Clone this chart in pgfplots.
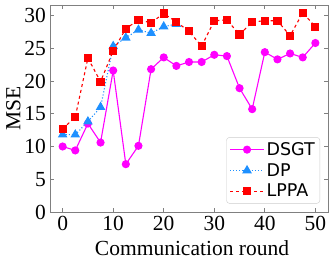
\documentclass[border=0pt]{standalone}
\usepackage{fontspec}
\setmainfont{Liberation Serif}
\newfontfamily\legfont{DejaVu Sans}
\usepackage{pgfplots}
\pgfplotsset{compat=1.18}
\definecolor{dpblue}{rgb}{0.118,0.565,1}
\definecolor{magenta}{rgb}{1,0,1}
\definecolor{red}{rgb}{1,0,0}
\definecolor{legframe}{rgb}{0.8,0.8,0.8}
\begin{document}
\begin{tikzpicture}[x=1pt,y=1pt]
\begin{axis}[
  scale only axis,
  width=278pt, height=207pt,
  xmin=-2.5, xmax=52.5, ymin=0, ymax=31.6,
  xtick={0,10,20,30,40,50},
  ytick={0,5,10,15,20,25,30},
  tick align=inside,
  xtick pos=both, ytick pos=both,
  major tick length=4pt,
  axis line style={gray, line width=0.9pt},
  tick style={gray, line width=0.8pt},
  /pgf/number format/assume math mode=true,
  tick label style={font=\fontsize{21.5}{21.5}\selectfont},
  xticklabel style={anchor=base, yshift=-18.5pt},
  yticklabel style={anchor=east, xshift=-0.5pt},
  label style={font=\fontsize{21.5}{21.5}\selectfont},
  xlabel={Communication round},
  ylabel={MSE},
  xlabel style={at={(axis description cs:0.5,0)}, anchor=base, yshift=-44pt, xshift=3pt},
  ylabel style={at={(axis description cs:0,0.5)}, anchor=base, yshift=29.5pt},
  legend image code/.code={\draw[mark repeat=2,mark phase=2] plot coordinates {(0pt,0pt) (17pt,0pt) (34pt,0pt)};},
  legend style={font=\legfont\fontsize{17.5}{17.5}\selectfont, draw=legframe, rounded corners=3pt,
    fill=white, at={(rel axis cs:1,0)}, xshift=-8pt, yshift=8.4pt, anchor=south east, row sep=2.5pt, inner sep=3pt},
  legend cell align=left,
]
\addplot[magenta, line width=1.1pt, mark=*, mark size=3.5pt,
  legend image post style={draw=magenta, fill=magenta, sharp corners}] coordinates {
(0,10.0)(2.5,9.4)(5,13.5)(7.5,10.6)(10,21.6)(12.5,7.3)(15,10.1)(17.5,21.8)(20,23.6)(22.5,22.3)
(25,22.9)(27.5,22.9)(30,24.0)(32.5,23.8)(35,18.9)(37.5,15.7)(40,24.4)(42.5,23.3)(45,24.2)(47.5,23.6)(50,25.8)};
\addlegendentry{DSGT}
\addplot[dpblue, line width=1.1pt, dotted, mark=triangle*, mark size=4.5pt, mark options={solid},
  legend image post style={draw=dpblue, fill=dpblue, sharp corners}] coordinates {
(0,11.8)(2.5,11.8)(5,13.8)(7.5,16.0)(10,25.3)(12.5,26.6)(15,27.8)(17.5,27.3)(20,28.3)(22.5,28.7)};
\addlegendentry{DP}
\addplot[red, line width=1.1pt, dashed, mark=square*, mark size=3.5pt, mark options={solid},
  legend image post style={draw=red, fill=red, sharp corners}] coordinates {
(0,12.7)(2.5,14.5)(5,23.5)(7.5,19.9)(10,24.6)(12.5,28.0)(15,29.3)(17.5,28.9)(20,30.3)(22.5,29.0)
(25,27.6)(27.5,25.3)(30,29.2)(32.5,29.3)(35,27.1)(37.5,29.0)(40,29.2)(42.5,29.2)(45,26.9)(47.5,30.4)(50,28.3)};
\addlegendentry{LPPA}
\end{axis}
\pgfresetboundingbox
\path[use as bounding box] (current axis.south west) ++(-50pt,-49pt) rectangle ++(334pt,261pt);
\end{tikzpicture}
\end{document}
